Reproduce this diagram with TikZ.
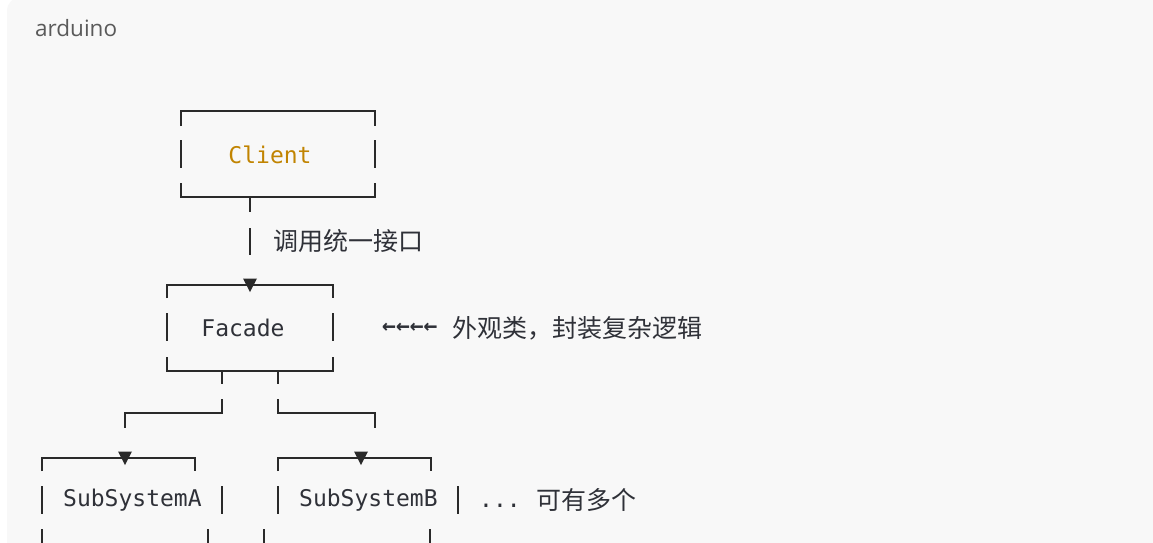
\documentclass[tikz,border=0pt]{standalone}
\usepackage{fontspec}
\usetikzlibrary{calc}
\newfontfamily\monof{DejaVu Sans Mono}
\newfontfamily\cjk{Noto Sans CJK SC}
\newfontfamily\uif{Open Sans}
\definecolor{cardbg}{HTML}{F8F8F8}
\definecolor{codetxt}{HTML}{2F3138}
\definecolor{linec}{HTML}{2A2A2A}
\definecolor{orangec}{HTML}{C18401}
\definecolor{langc}{HTML}{5A5A5A}
\tikzset{
  bl/.style={draw=linec, line width=1.5pt, line cap=butt},
  tri/.style={fill=linec, draw=none},
  mono/.style={inner sep=0pt, font=\monof\fontsize{23}{23}\selectfont, text=codetxt},
  cjkt/.style={inner sep=0pt, font=\cjk\fontsize{25}{25}\selectfont, text=codetxt},
}
\begin{document}
\begin{tikzpicture}[x=1pt,y=-1pt]
\useasboundingbox (0,0) rectangle (1153,542);
\fill[white] (0,0) rectangle (1153,542);
\fill[cardbg, rounded corners=14pt] (7,-3) rectangle (1175,570);
\node[anchor=west, inner sep=0pt, font=\uif\fontsize{22.5}{23}\selectfont, text=langc] (lang) at (35,28) {arduino};

% ---------- Client ----------
\node[mono, text=orangec] (client) at (270,155) {Client};
\draw[bl] (181,126) -- (181,111) -- (375,111) -- (375,126);
\draw[bl] (181,140) -- (181,168);
\draw[bl] (375,140) -- (375,168);
\draw[bl] (181,183) -- (181,197) -- (375,197) -- (375,183);
\coordinate (cbot) at (250,197);
\coordinate (cstub) at (250,212);
\draw[bl] (cbot) -- (cstub);
\coordinate (l1a) at (250,228);
\coordinate (l1b) at (250,255);
\draw[bl] (l1a) -- (l1b);
\node[cjkt, anchor=west] (lbl1) at (273,241) {调用统一接口};

% ---------- Facade ----------
\node[mono] (facade) at (243,328) {Facade};
\coordinate (ftop) at (250,285);
\draw[bl] (167,298) -- (167,285) -- (333,285) -- (333,298);
\fill[tri] ($(ftop)+(-7,-6.5)$) -- ($(ftop)+(7,-6.5)$) -- ($(ftop)+(0,7)$) -- cycle;
\draw[bl] (167,313) -- (167,341);
\draw[bl] (333,313) -- (333,341);
\draw[bl] (167,357) -- (167,371) -- (333,371) -- (333,357);
\node[mono, anchor=west, font=\monof\bfseries\fontsize{23}{23}\selectfont] (arr) at (382,328) {←←←←};
\node[cjkt, anchor=west] (lbl2) at (452,328) {外观类，封装复杂逻辑};

% ---------- split ----------
\coordinate (fl) at (222,371);
\coordinate (fr) at (278,371);
\draw[bl] (fl) -- (222,384);
\draw[bl] (fr) -- (278,384);
\coordinate (sa) at (125,428);
\coordinate (sb) at (375,428);
\draw[bl] (222,399) -- (222,413) -- (125,413) -- (sa);
\draw[bl] (278,399) -- (278,413) -- (375,413) -- (sb);

% ---------- SubSystemA ----------
\coordinate (atop) at (125,458);
\draw[bl] (42,471) -- (42,458) -- (195,458) -- (195,471);
\fill[tri] ($(atop)+(-7,-6.5)$) -- ($(atop)+(7,-6.5)$) -- ($(atop)+(0,7)$) -- cycle;
\draw[bl] (42,486) -- (42,514);
\draw[bl] (222,486) -- (222,514);
\node[mono, anchor=west] (suba) at (63,500) {SubSystemA};
\draw[bl] (42,529) -- (42,545);
\draw[bl] (208,529) -- (208,545);

% ---------- SubSystemB ----------
\coordinate (btop) at (361,458);
\draw[bl] (278,471) -- (278,458) -- (431,458) -- (431,471);
\fill[tri] ($(btop)+(-7,-6.5)$) -- ($(btop)+(7,-6.5)$) -- ($(btop)+(0,7)$) -- cycle;
\draw[bl] (278,486) -- (278,514);
\draw[bl] (458,486) -- (458,514);
\node[mono, anchor=west] (subb) at (299,500) {SubSystemB};
\draw[bl] (264,529) -- (264,545);
\draw[bl] (430,529) -- (430,545);
\node[mono, anchor=base west] (dots) at (479,507) {{.}{.}{.}};
\node[cjkt, anchor=west] (lbl3) at (536,500) {可有多个};
\end{tikzpicture}
\end{document}
